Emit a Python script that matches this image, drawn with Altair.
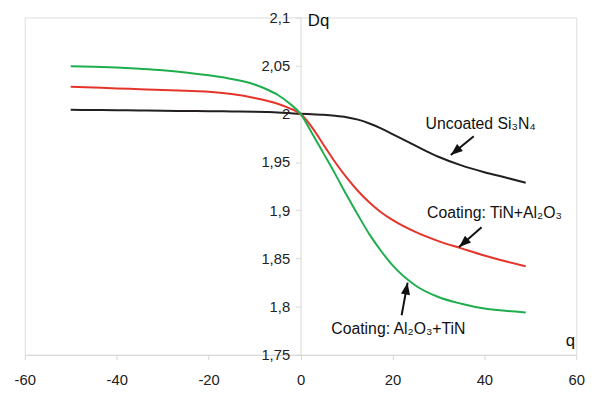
import math
import altair as alt
import pandas as pd

# ---- data ----
q_vals = [-50, -45, -40, -35, -30, -25, -20, -15, -10, -7.5, -5, -2.5, 0,
          2.5, 5, 7.5, 10, 12.5, 15, 17.5, 20, 25, 30, 35, 40, 45, 49]

uncoated = [2.0042, 2.0040, 2.0038, 2.0035, 2.0032, 2.0030, 2.0028, 2.0025, 2.0022, 2.0019, 2.0015, 2.0008, 2.0000,
            1.9996, 1.9990, 1.9980, 1.9965, 1.9940, 1.9900, 1.9850, 1.9790, 1.9670, 1.9555, 1.9465, 1.9395, 1.9335, 1.9286]

tin_al2o3 = [2.0282, 2.0273, 2.0264, 2.0256, 2.0248, 2.0240, 2.0230, 2.0205, 2.0165, 2.0138, 2.0105, 2.0060, 2.0000,
             1.9860, 1.9680, 1.9500, 1.9340, 1.9200, 1.9080, 1.8980, 1.8900, 1.8775, 1.8680, 1.8605, 1.8530, 1.8465, 1.8420]

al2o3_tin = [2.0494, 2.0488, 2.0480, 2.0468, 2.0453, 2.0430, 2.0400, 2.0362, 2.0305, 2.0258, 2.0198, 2.0112, 2.0000,
             1.9800, 1.9590, 1.9380, 1.9160, 1.8950, 1.8750, 1.8580, 1.8430, 1.8220, 1.8100, 1.8030, 1.7980, 1.7955, 1.7940]

series_names = ["Uncoated Si3N4", "Coating: TiN+Al2O3", "Coating: Al2O3+TiN"]
series_colors = ["#231f20", "#e5352b", "#1fae4e"]

x_ticks = [-60, -40, -20, 0, 20, 40, 60]
y_ticks = [1.75, 1.8, 1.85, 1.9, 1.95, 2.0, 2.05, 2.1]

# annotations: label text, label position, arrow start, arrow tip
ann_text = ["Uncoated Si\u2083N\u2084", "Coating: TiN+Al\u2082O\u2083", "Coating: Al\u2082O\u2083+TiN"]
ann_q = [39.2, 42.2, 21.3]
ann_dq = [1.9892, 1.8968, 1.7767]
arrow_q0 = [37.7, 39.4, 22.0]
arrow_dq0 = [1.9768, 1.8824, 1.7911]
arrow_q1 = [32.7, 34.5, 23.3]
arrow_dq1 = [1.9573, 1.8619, 1.8249]

# ---- layout ----
W, H = 559, 342
XDOM = [-60, 60]
YDOM = [1.75, 2.1]
FONT = "Liberation Sans"

rows = []
for name, vals in zip(series_names, [uncoated, tin_al2o3, al2o3_tin]):
    for q, v in zip(q_vals, vals):
        rows.append({"q": q, "Dq": v, "series": name})
df = pd.DataFrame(rows)

xs = alt.Scale(domain=XDOM, nice=False, zero=False)
ys = alt.Scale(domain=YDOM, nice=False, zero=False)

lines = alt.Chart(df).mark_line(strokeWidth=2, interpolate="monotone").encode(
    x=alt.X("q:Q", scale=xs, axis=alt.Axis(
        values=x_ticks, title=None, grid=False, domainColor="#d6d6d6", tickColor="#d6d6d6",
        tickSize=5, labelFont=FONT, labelFontSize=15, labelColor="#222222",
        labelPadding=13, labelFlush=False, labelExpr="'' + datum.value")),
    y=alt.Y("Dq:Q", scale=ys, axis=alt.Axis(
        values=y_ticks, title=None, grid=False, domainColor="#d6d6d6", tickColor="#d6d6d6",
        tickSize=5, labelFont=FONT, labelFontSize=15, labelColor="#222222",
        labelPadding=6, offset=-W / 2, labelFlush=False,
        labelExpr="replace(format(datum.value, '.2~f'), '.', ',')")),
    color=alt.Color("series:N", scale=alt.Scale(domain=series_names, range=series_colors), legend=None),
    detail="series:N",
)

ann_df = pd.DataFrame({"text": ann_text, "q": ann_q, "Dq": ann_dq})
ann = alt.Chart(ann_df).mark_text(font=FONT, fontSize=16, color="#111111", align="center",
                                  baseline="middle").encode(
    x=alt.X("q:Q", scale=xs), y=alt.Y("Dq:Q", scale=ys), text="text:N")

angles = []
for a0, b0, a1, b1 in zip(arrow_q0, arrow_dq0, arrow_q1, arrow_dq1):
    dx = (a1 - a0) * W / (XDOM[1] - XDOM[0])
    dy = -(b1 - b0) * H / (YDOM[1] - YDOM[0])
    angles.append(math.degrees(math.atan2(dx, -dy)) % 360)

arr_df = pd.DataFrame({"q0": arrow_q0, "dq0": arrow_dq0, "q1": arrow_q1, "dq1": arrow_dq1, "angle": angles})
arrow_lines = alt.Chart(arr_df).mark_rule(strokeWidth=2, color="#111111").encode(
    x=alt.X("q0:Q", scale=xs), y=alt.Y("dq0:Q", scale=ys), x2="q1:Q", y2="dq1:Q")
arrow_heads = alt.Chart(arr_df).mark_point(
    shape="M0,0L0.85,2.2L-0.85,2.2Z", filled=True, size=120, color="#111111", opacity=1).encode(
    x=alt.X("q1:Q", scale=xs), y=alt.Y("dq1:Q", scale=ys),
    angle=alt.Angle("angle:Q", scale=None))

titles_df = pd.DataFrame({"text": ["Dq", "q"], "q": [1.6, 58.7], "Dq": [2.0965, 1.7644]})
dq_title = alt.Chart(titles_df.iloc[[0]]).mark_text(font=FONT, fontSize=17, color="#111111",
                                                    align="left", baseline="middle").encode(
    x=alt.X("q:Q", scale=xs), y=alt.Y("Dq:Q", scale=ys), text="text:N")
q_title = alt.Chart(titles_df.iloc[[1]]).mark_text(font=FONT, fontSize=17, color="#111111",
                                                   align="center", baseline="middle").encode(
    x=alt.X("q:Q", scale=xs), y=alt.Y("Dq:Q", scale=ys), text="text:N")

chart = alt.layer(lines, arrow_lines, arrow_heads, ann, dq_title, q_title).properties(
    width=W, height=H,
    autosize=alt.AutoSizeParams(type="none"),
    padding={"left": 17, "top": 7, "right": 20, "bottom": 30},
).configure_view(stroke=None).configure(background="white")

chart.save("out.html", embed_options={"renderer": "svg", "actions": False})
